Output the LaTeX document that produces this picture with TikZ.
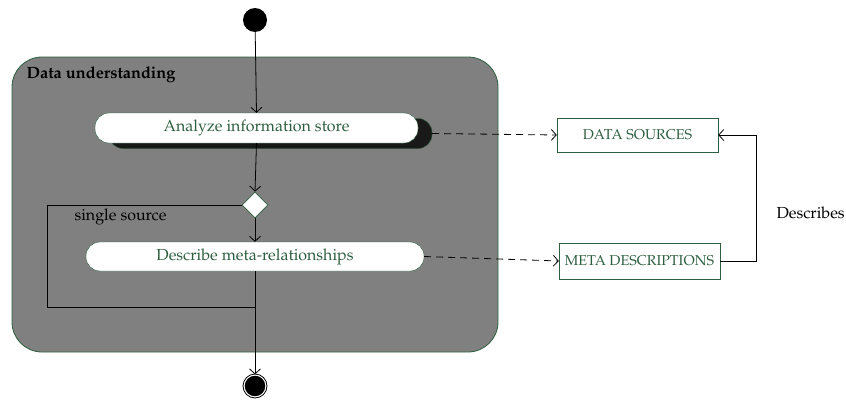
\documentclass[tikz,border=0pt]{standalone}
\usepackage[T1]{fontenc}
\usepackage{mathpazo}
\usetikzlibrary{arrows.meta,shapes.geometric,calc}
\definecolor{dkgreen}{HTML}{2E5E40}
\definecolor{boxgray}{HTML}{808080}
\tikzset{
  barb/.style={-{Straight Barb[length=5pt,width=11pt]}},
  activity/.style={draw=dkgreen, fill=white, rounded corners=14pt, text=dkgreen, font=\fontsize{16}{18}\selectfont, inner sep=0pt},
  objbox/.style={draw=dkgreen, fill=white, text=dkgreen, font=\fontsize{14.3}{16}\selectfont, inner sep=0pt},
  flow/.style={draw=black, line width=0.8pt},
  dep/.style={draw=black, dashed, dash pattern=on 7pt off 5pt, line width=0.8pt},
  plain/.style={font=\fontsize{16}{18}\selectfont, text=black},
}
\begin{document}
\begin{tikzpicture}[x=1pt,y=-1pt]
\useasboundingbox (0,0) rectangle (846,399);
% container
\node[draw=dkgreen, fill=boxgray, rounded corners=30pt, minimum width=486pt, minimum height=295pt, line width=0.8pt, inner sep=0pt] (cont) at (255,204.5) {};
\node[plain, font=\fontsize{16.3}{18}\selectfont\bfseries, anchor=west] (title) at (23,75) {Data understanding};
% start
\node[circle, fill=black, minimum size=24pt, inner sep=0pt] (start) at (255,20) {};
% analyze with shadow
\node[draw=dkgreen, fill=black!90, rounded corners=14pt, minimum width=323pt, minimum height=30pt, inner sep=0pt] (shadow) at (270.5,133.5) {};
\node[activity, minimum width=323pt, minimum height=30pt] (analyze) at (256.5,128) {\raisebox{-2pt}{Analyze information store}};
% decision
\node[diamond, draw=dkgreen, fill=white, minimum width=26pt, minimum height=26pt, inner sep=0pt, line width=0.8pt] (dia) at (255,205) {};
\node[plain, anchor=west] (single) at (71,217) {single source};
% describe
\node[activity, minimum width=338pt, minimum height=29pt] (describe) at (255,256.5) {\raisebox{-1pt}{Describe meta-relationships}};
% final
\node[circle, fill=black, draw=white, line width=1.2pt, minimum size=22pt, inner sep=0pt] (final) at (255,386) {};
\draw[black, line width=0.8pt] (final.center) circle (12pt);
% objects
\node[objbox, minimum width=161pt, minimum height=34pt] (ds) at (637.5,135) {DATA SOURCES};
\node[objbox, minimum width=161pt, minimum height=36pt] (md) at (639.5,261) {META DESCRIPTIONS};
\node[plain, anchor=west] (desc) at (773,213) {Describes};
% branch corner points
\coordinate (b1) at (47,205);
\coordinate (b2) at (47,307);
\coordinate (b3) at (255,307);
\coordinate (r1) at (756,261);
% connectors
\draw[flow, barb] (start) -- (analyze.north);
\draw[flow, barb] (analyze.south) -- (dia.north);
\draw[flow, barb] (dia.south) -- (describe.north);
\draw[flow] (dia.west) -- (b1) -- (b2) -- (b3);
\draw[flow, barb] (describe.south) -- (final.north);
\draw[dep, barb] (shadow.east) -- (ds.west);
\draw[dep, barb] (describe.east) -- (md.west);
\draw[flow, barb] (md.east) -- (r1) |- (ds.east);
\end{tikzpicture}
\end{document}
